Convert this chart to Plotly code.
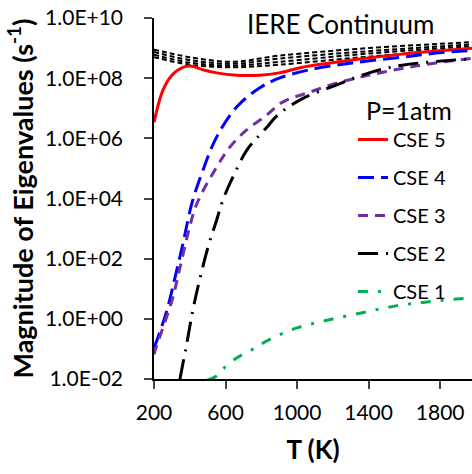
import plotly.graph_objects as go

# ---- data ----
T_cse5 = [200, 250, 300, 362, 412, 473, 550, 662, 790, 900, 1030, 1309, 1587, 2000]
v_cse5 = [3.4e6, 4.0e7, 1.26e8, 2.3e8, 2.5e8, 1.9e8, 1.5e8, 1.26e8, 1.26e8, 1.5e8, 2.3e8, 4.0e8, 6.3e8, 1.0e9]

T_cse4 = [200, 216, 272, 317, 362, 412, 473, 550, 662, 790, 900, 1069, 1309, 1587, 1776, 2000]
v_cse4 = [0.11, 0.19, 1.9, 23, 320, 7.0e3, 8.5e4, 1.1e6, 1.1e7, 4.7e7, 1.0e8, 1.9e8, 3.2e8, 5.0e8, 6.8e8, 8.5e8]

T_cse3 = [200, 205, 300, 345, 390, 440, 550, 623, 718, 830, 919, 1069, 1219, 1403, 1587, 1776, 2000]
v_cse3 = [0.065, 0.085, 4.0, 50, 680, 6.8e3, 1.1e5, 5.0e5, 1.9e6, 5.9e6, 1.6e7, 3.4e7, 6.8e7, 1.26e8, 2.1e8, 3.2e8, 4.7e8]

T_cse2 = [345, 383, 417, 445, 501, 550, 584, 640, 718, 774, 830, 891, 1030, 1219, 1403, 1587, 2000]
v_cse2 = [0.01, 0.15, 1.9, 11, 230, 1.9e3, 8.5e3, 5.0e4, 4.0e5, 1.0e6, 2.3e6, 5.9e6, 2.1e7, 5.9e7, 1.5e8, 2.7e8, 4.5e8]

T_cse1 = [500, 550, 584, 662, 746, 835, 1000, 1180, 1365, 1553, 1738, 2000]
v_cse1 = [0.0093, 0.0126, 0.021, 0.05, 0.093, 0.19, 0.5, 0.93, 1.6, 2.7, 3.7, 5.2]

T_cont = [200, 400, 640, 900, 1400, 2000]
v_cont_a = [8.9e8, 5.0e8, 3.5e8, 5.6e8, 1.0e9, 1.6e9]
v_cont_b = [7.4e8, 4.0e8, 3.0e8, 4.5e8, 7.9e8, 1.35e9]
v_cont_c = [6.0e8, 3.3e8, 2.6e8, 3.5e8, 6.6e8, 1.17e9]
v_cont_d = [5.0e8, 2.8e8, 2.3e8, 2.8e8, 5.2e8, 1.0e9]

x_ticks = [200, 600, 1000, 1400, 1800]
y_ticks = [1e-2, 1e0, 1e2, 1e4, 1e6, 1e8, 1e10]
y_ticktext = ["1.0E-02", "1.0E+00", "1.0E+02", "1.0E+04", "1.0E+06", "1.0E+08", "1.0E+10"]

FONT = "Lato, 'Open Sans', sans-serif"

fig = go.Figure()

for vals in [v_cont_a, v_cont_b, v_cont_c, v_cont_d]:
    fig.add_trace(go.Scatter(x=T_cont, y=vals, mode="lines", showlegend=False,
                             line=dict(color="black", width=2, dash="5px,3px", shape="spline")))

series = [
    ("CSE 5", T_cse5, v_cse5, "#ff0000", "solid"),
    ("CSE 4", T_cse4, v_cse4, "#0000ff", "16px,7px"),
    ("CSE 3", T_cse3, v_cse3, "#7030a0", "10px,7px"),
    ("CSE 2", T_cse2, v_cse2, "#000000", "20px,8px,2px,8px"),
    ("CSE 1", T_cse1, v_cse1, "#00b050", "10px,10px,3px,10px"),
]
for name, xs, ys, col, dash in series:
    fig.add_trace(go.Scatter(x=xs, y=ys, mode="lines", name=name, legendgroup=name,
                             line=dict(color=col, width=3, dash=dash, shape="spline")))

PW, PH = 318, 361  # plot area in px (for placing the two text notes)

fig.update_layout(
    width=472, height=474,
    margin=dict(l=154, r=0, t=18, b=95, autoexpand=False),
    paper_bgcolor="white", plot_bgcolor="white",
    font=dict(family=FONT, color="black", size=20),
    legend=dict(x=(353 - 154) / PW, y=(379 - 120) / PH, xanchor="left", yanchor="top",
                bgcolor="rgba(0,0,0,0)", font=dict(size=20, family=FONT),
                tracegroupgap=9),
    annotations=[
        dict(text="IERE Continuum", xref="paper", yref="paper", x=(340 - 154) / PW, y=(379 - 24) / PH,
             xanchor="center", yanchor="middle", showarrow=False, font=dict(size=26, family=FONT)),
        dict(text="P=1atm", xref="paper", yref="paper", x=(409 - 154) / PW, y=(379 - 110) / PH,
             xanchor="center", yanchor="middle", showarrow=False, font=dict(size=25, family=FONT)),
    ],
)

fig.update_xaxes(range=[200, 1978], tickvals=x_ticks, ticks="outside", ticklen=8, tickwidth=1.5,
                 showline=True, linecolor="black", linewidth=1.5, showgrid=False, zeroline=False,
                 tickfont=dict(size=21), ticklabelstandoff=6,
                 title=dict(text="<b>T (K)</b>", font=dict(size=26), standoff=18))
fig.update_yaxes(type="log", range=[-2, 10], tickvals=y_ticks, ticktext=y_ticktext,
                 ticks="outside", ticklen=8, tickwidth=1.5,
                 showline=True, linecolor="black", linewidth=1.5, showgrid=False, zeroline=False,
                 tickfont=dict(size=21), ticklabelstandoff=17,
                 title=dict(text="<b>Magnitude of Eigenvalues (s<sup>-1</sup>)</b>", font=dict(size=27), standoff=4))

fig.write_html("out.html", config={"displayModeBar": False},
               post_script="document.body.style.margin='0px';")
